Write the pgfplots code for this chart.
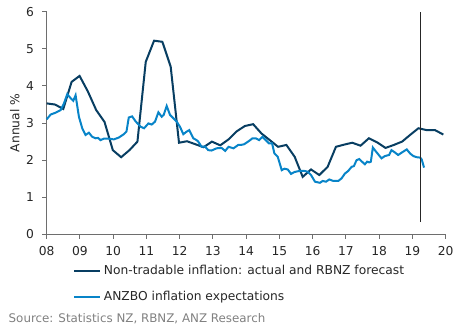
\documentclass[border=0pt]{standalone}
\usepackage{pgfplots}
\pgfplotsset{compat=1.18}
\usepackage{fontspec}
\setmainfont{DejaVu Sans}
\definecolor{darkline}{RGB}{8,62,98}
\definecolor{lightline}{RGB}{8,132,200}
\definecolor{axgray}{RGB}{110,110,110}
\definecolor{srcgray}{RGB}{128,128,128}
\begin{document}
\begin{tikzpicture}
\begin{axis}[
  width=299.25pt, height=167pt, scale only axis,
  xmin=8, xmax=20, ymin=0, ymax=6,
  axis x line=bottom, axis y line=left,
  axis line style={-, axgray, line width=0.8pt},
  xtick={8,9,...,20},
  xticklabels={08,09,10,11,12,13,14,15,16,17,18,19,20},
  ytick={0,1,...,6},
  tick align=outside,
  major tick length=3.2pt,
  tick style={axgray, line width=0.8pt},
  /pgf/number format/assume math mode=true,
  tick label style={font=\fontsize{9.2}{11}\selectfont, text=black!85},
  xticklabel style={yshift=-2.2pt},
  yticklabel style={xshift=-2.8pt},
  ylabel={Annual \%},
  ylabel style={at={(axis description cs:-0.08,0.5)}, anchor=center, font=\fontsize{9.2}{11}\selectfont, text=black!85},
  legend style={at={(0.066,-0.125)}, anchor=north west, draw=none, fill=none,
    font=\fontsize{9.2}{11}\selectfont, text=black!85, row sep=7pt, inner sep=0pt},
  legend cell align=left,
  legend image code/.code={\draw[#1, line width=1.5pt] (0,0) -- (19.5pt,0);},
  clip=false,
]
\addplot[darkline, line width=1.5pt] coordinates {
(8.00,3.53) (8.25,3.50) (8.50,3.38) (8.75,4.11) (8.99,4.27) (9.24,3.85) (9.49,3.35) (9.74,3.03)
(9.99,2.27) (10.24,2.08) (10.49,2.27) (10.73,2.50) (10.98,4.65) (11.23,5.22) (11.48,5.19) (11.73,4.52)
(11.98,2.47) (12.22,2.51) (12.47,2.43) (12.72,2.35) (12.97,2.50) (13.22,2.40) (13.47,2.56) (13.72,2.78)
(13.96,2.92) (14.21,2.97) (14.46,2.72) (14.71,2.54) (14.96,2.36) (15.21,2.41) (15.46,2.09) (15.70,1.55)
(15.95,1.75) (16.20,1.60) (16.45,1.82) (16.70,2.36) (16.95,2.42) (17.19,2.47) (17.44,2.39) (17.69,2.59)
(17.94,2.48) (18.19,2.33) (18.44,2.41) (18.69,2.50) (18.93,2.68) (19.18,2.86) (19.43,2.81) (19.68,2.81)
(19.93,2.69)
};
\addlegendentry{Non-tradable inflation: actual and RBNZ forecast}
\addplot[lightline, line width=1.5pt] coordinates {
(8.00,3.10) (8.12,3.23) (8.27,3.28) (8.42,3.35) (8.52,3.53) (8.62,3.78) (8.72,3.67) (8.80,3.60)
(8.87,3.75) (8.97,3.17) (9.07,2.86) (9.17,2.68) (9.27,2.74) (9.37,2.63) (9.47,2.59) (9.55,2.60)
(9.62,2.54) (9.72,2.58) (9.87,2.58) (10.02,2.56) (10.17,2.61) (10.32,2.70) (10.40,2.77) (10.47,3.15)
(10.57,3.18) (10.68,3.04) (10.83,2.90) (10.93,2.86) (11.06,2.99) (11.16,2.96) (11.26,3.04) (11.36,3.29)
(11.46,3.17) (11.52,3.22) (11.61,3.46) (11.71,3.22) (11.81,3.13) (11.91,3.04) (12.01,2.90) (12.11,2.70)
(12.21,2.77) (12.29,2.81) (12.41,2.59) (12.51,2.54) (12.56,2.50) (12.66,2.36) (12.76,2.37) (12.86,2.27)
(12.96,2.26) (13.11,2.32) (13.26,2.33) (13.37,2.25) (13.47,2.36) (13.62,2.32) (13.76,2.41) (13.84,2.41)
(13.94,2.43) (14.09,2.52) (14.19,2.59) (14.29,2.59) (14.39,2.54) (14.49,2.63) (14.59,2.54) (14.69,2.45)
(14.78,2.45) (14.85,2.18) (14.95,2.09) (15.07,1.73) (15.15,1.77) (15.25,1.75) (15.35,1.63) (15.45,1.68)
(15.60,1.71) (15.75,1.71) (15.85,1.69) (15.95,1.60) (16.07,1.42) (16.22,1.39) (16.30,1.44) (16.40,1.42)
(16.50,1.48) (16.62,1.44) (16.77,1.44) (16.87,1.51) (16.97,1.64) (17.07,1.71) (17.17,1.82) (17.24,1.84)
(17.32,2.00) (17.40,2.03) (17.47,1.97) (17.57,1.89) (17.64,1.96) (17.70,1.94) (17.75,1.96) (17.81,2.34)
(17.88,2.26) (17.97,2.16) (18.07,2.05) (18.17,2.11) (18.30,2.14) (18.37,2.27) (18.47,2.21) (18.57,2.14)
(18.67,2.20) (18.83,2.29) (18.93,2.18) (19.03,2.11) (19.13,2.08) (19.23,2.07) (19.28,2.02) (19.35,1.80)
};
\addlegendentry{ANZBO inflation expectations}
\addplot[black!85, line width=0.5pt, forget plot] coordinates {(19.25,0.33) (19.25,6)};
\end{axis}
\node[anchor=base west, font=\fontsize{8.9}{11}\selectfont, text=srcgray] at ([xshift=-32pt, yshift=-66pt]current axis.south west) {Source: Statistics NZ, RBNZ, ANZ Research};
\pgfresetboundingbox
\path[use as bounding box] ([xshift=-35pt, yshift=-69.5pt]current axis.south west) rectangle ([xshift=308.5pt, yshift=175.8pt]current axis.south west);
\end{tikzpicture}
\end{document}
